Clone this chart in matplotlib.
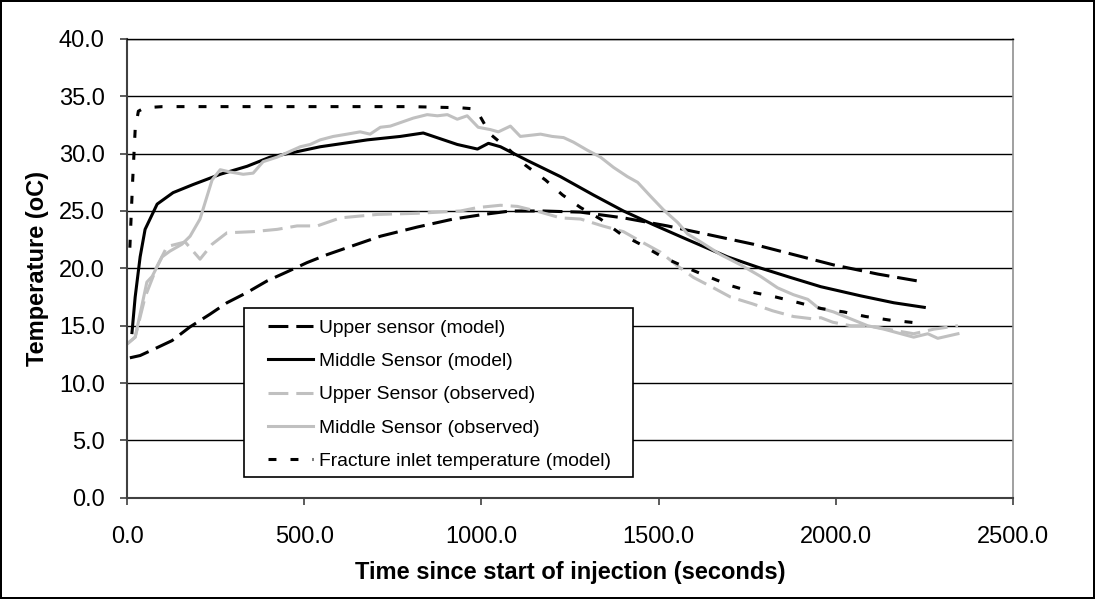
import matplotlib
matplotlib.use("Agg")
import matplotlib.pyplot as plt
from matplotlib.patches import Rectangle

plt.rcParams["font.family"] = ["Liberation Sans", "DejaVu Sans"]

# Values (time in s, temperature in oC)
upper_model_t = [8, 37, 79, 127, 178, 234, 282, 339, 395, 452, 508, 565, 621, 715, 819,
                 921, 1006, 1082, 1175, 1280, 1401, 1525, 1647, 1768, 1881, 1994, 2119, 2250]
upper_model_T = [12.2, 12.4, 13.0, 13.7, 14.9, 16.0, 17.0, 17.9, 18.9, 19.7, 20.5, 21.2, 21.8, 22.8, 23.6,
                 24.3, 24.7, 25.0, 25.0, 24.9, 24.4, 23.7, 22.9, 22.1, 21.2, 20.3, 19.5, 18.8]

middle_model_t = [14, 23, 37, 51, 85, 130, 186, 263, 339, 404, 469, 545, 678, 771, 836, 884, 932,
                  989, 1020, 1054, 1130, 1223, 1316, 1401, 1486, 1582, 1695, 1780, 1873, 1958, 2071, 2164, 2250]
middle_model_T = [14.4, 17.5, 21.0, 23.4, 25.6, 26.6, 27.3, 28.2, 28.9, 29.7, 30.1, 30.6, 31.2, 31.5, 31.8, 31.3, 30.8,
                  30.4, 30.9, 30.6, 29.4, 28.0, 26.4, 25.0, 23.8, 22.5, 21.0, 20.1, 19.2, 18.4, 17.6, 17.0, 16.6]

upper_obs_t = [0, 23, 51, 85, 113, 164, 206, 240, 282, 356, 424, 480, 537, 602, 706, 819, 941, 989,
               1054, 1102, 1167, 1223, 1280, 1342, 1401, 1441, 1506, 1554, 1599, 1655, 1703, 1766, 1822,
               1881, 1935, 1958, 1992, 2042, 2090, 2164, 2220, 2277, 2345]
upper_obs_T = [13.4, 14.0, 17.5, 20.2, 21.9, 22.3, 20.8, 22.1, 23.1, 23.2, 23.4, 23.7, 23.7, 24.4, 24.7, 24.8, 25.0, 25.3,
               25.5, 25.4, 24.9, 24.4, 24.3, 23.7, 23.2, 22.5, 21.4, 20.2, 19.2, 18.3, 17.5, 16.9, 16.3,
               15.8, 15.6, 15.7, 15.3, 15.0, 15.0, 14.6, 14.3, 14.7, 15.0]

middle_obs_t = [0, 23, 56, 71, 99, 121, 155, 178, 206, 240, 263, 291, 328, 356, 384, 424, 460, 489, 517,
                545, 582, 621, 658, 686, 715, 743, 771, 808, 847, 876, 904, 932, 960, 991, 1025, 1048,
                1082, 1110, 1167, 1200, 1232, 1260, 1299, 1336, 1373, 1412, 1441, 1477, 1514, 1554, 1582,
                1619, 1675, 1732, 1788, 1836, 1881, 1921, 1949, 1994, 2042, 2090, 2136, 2184, 2220, 2260,
                2288, 2345]
middle_obs_T = [13.4, 14.0, 18.8, 19.3, 21.0, 21.5, 22.1, 22.8, 24.3, 27.7, 28.6, 28.4, 28.2, 28.3, 29.3, 29.7, 30.2, 30.6, 30.8,
                31.2, 31.5, 31.7, 31.9, 31.7, 32.3, 32.4, 32.7, 33.1, 33.4, 33.3, 33.4, 33.0, 33.3, 32.3, 32.1, 31.9,
                32.4, 31.5, 31.7, 31.5, 31.4, 31.0, 30.3, 29.7, 28.8, 28.0, 27.5, 26.3, 25.1, 24.0, 23.0,
                22.3, 21.2, 20.3, 19.3, 18.3, 17.7, 17.3, 16.6, 16.2, 15.6, 15.0, 14.7, 14.3, 14.0, 14.3,
                13.9, 14.3]

inlet_t = [8, 12, 16, 23, 32, 50, 100, 200, 400, 600, 800, 940, 980, 990, 1025, 1080, 1124, 1181, 1229,
           1280, 1336, 1393, 1449, 1511, 1576, 1638, 1703, 1768, 1831, 1896, 1958, 2023, 2085, 2150, 2212, 2240]
inlet_T = [21.8, 24.8, 27.7, 32.1, 33.7, 34.0, 34.1, 34.1, 34.1, 34.1, 34.1, 34.0, 33.9, 33.6, 31.7, 30.3, 29.0, 27.7, 26.4,
           25.3, 24.3, 23.0, 22.1, 21.0, 20.1, 19.3, 18.5, 17.9, 17.5, 17.0, 16.5, 16.2, 15.8, 15.5, 15.3, 15.2]

labels = ["Upper sensor (model)", "Middle Sensor (model)", "Upper Sensor (observed)",
          "Middle Sensor (observed)", "Fracture inlet temperature (model)"]

x_ticks = [0, 500, 1000, 1500, 2000, 2500]
y_ticks = [0, 5, 10, 15, 20, 25, 30, 35, 40]

gray = "#c0c0c0"
lw = 2.2

fig = plt.figure(figsize=(10.95, 5.99), dpi=100, edgecolor="black", linewidth=1.5)
ax = fig.add_axes([0.116, 0.169, 0.809, 0.766])

ax.plot(upper_model_t, upper_model_T, color="black", lw=lw, ls=(0, (6.5, 2.6)), label=labels[0])
ax.plot(middle_model_t, middle_model_T, color="black", lw=lw, ls="-", label=labels[1])
ax.plot(upper_obs_t, upper_obs_T, color=gray, lw=lw, ls=(0, (6.5, 2.6)), label=labels[2])
ax.plot(middle_obs_t, middle_obs_T, color=gray, lw=lw, ls="-", label=labels[3])
ax.plot(inlet_t, inlet_T, color="black", lw=lw, ls=(0, (2.6, 4.6)), label=labels[4])

ax.set_xlim(0, 2500)
ax.set_ylim(0, 40)
ax.set_xticks(x_ticks)
ax.set_yticks(y_ticks)
ax.set_xticklabels([f"{v:.1f}" for v in x_ticks])
ax.set_yticklabels([f"{v:.1f}" for v in y_ticks])
ax.tick_params(labelsize=17, direction="out", length=5, width=1.2, color="#404040")
ax.tick_params(axis="x", pad=15)
ax.tick_params(axis="y", pad=11)

ax.yaxis.grid(True, color="black", lw=1.0)
ax.set_axisbelow(True)
for side in ["left", "bottom"]:
    ax.spines[side].set_color("#404040")
    ax.spines[side].set_linewidth(1.5)
ax.spines["right"].set_color("#909090")
ax.spines["right"].set_linewidth(1.2)
ax.spines["top"].set_color("black")
ax.spines["top"].set_linewidth(1.0)

ax.set_xlabel("Time since start of injection (seconds)", fontsize=17, fontweight="bold", labelpad=10)
ax.set_ylabel("Temperature (oC)", fontsize=17, fontweight="bold", labelpad=7)

# legend box drawn separately so the side padding can be wider than top/bottom
ax.add_patch(Rectangle((0.132, 0.046), 0.439, 0.368, transform=ax.transAxes,
                       facecolor="white", edgecolor="black", lw=1.2, zorder=4.5))
leg = ax.legend(loc="upper left", bbox_to_anchor=(0.159, 0.389), borderaxespad=0,
                fontsize=13.9, handlelength=2.35, handletextpad=0.3, labelspacing=0.82,
                borderpad=0.0, frameon=False)
leg.set_zorder(5)

fig.savefig("out.png", dpi=100)
